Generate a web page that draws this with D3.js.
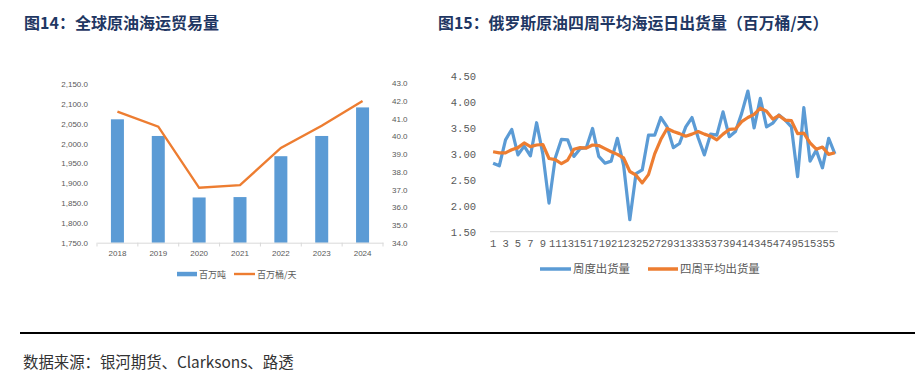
<!DOCTYPE html>
<html><head><meta charset="utf-8">
<script src="https://cdn.jsdelivr.net/npm/d3@7"></script>
<style>
html,body{margin:0;padding:0;background:#fff;}
svg{display:block;}
</style></head>
<body>
<svg id="c" width="924" height="384"></svg>
<script>
// ---- Left chart data ----
const years = ["2018","2019","2020","2021","2022","2023","2024"];
const tonnes = [2061, 2019, 1864, 1865, 1968, 2019, 2091];        // 百万吨
const bblPerDay = [41.4, 40.55, 37.1, 37.25, 39.35, 40.6, 42.0];  // 百万桶/天
const leftTicks = [1750,1800,1850,1900,1950,2000,2050,2100,2150];
const rightTicks = [34,35,36,37,38,39,40,41,42,43];

// ---- Right chart data ----
const weeks = d3.range(1, 57);
const weekly = [2.82,2.77,3.27,3.47,2.98,3.15,2.96,3.60,3.00,2.05,
                2.92,3.28,3.27,2.95,3.10,3.12,3.49,2.95,2.82,2.86,
                3.30,2.78,1.73,2.62,2.69,3.36,3.36,3.70,3.52,3.12,
                3.20,3.52,3.70,3.31,2.98,3.38,3.36,3.81,3.33,3.43,
                3.78,4.21,3.50,4.07,3.52,3.59,3.75,3.65,3.52,2.56,
                3.89,2.86,3.07,2.73,3.30,3.00];
const fourWeek = [3.04,3.02,3.02,3.08,3.12,3.21,3.14,3.17,3.18,2.91,
                  2.89,2.81,2.88,3.09,3.12,3.11,3.17,3.16,3.10,3.04,
                  2.99,2.92,2.66,2.59,2.44,2.60,3.00,3.28,3.49,3.43,
                  3.39,3.34,3.38,3.43,3.38,3.34,3.27,3.38,3.47,3.48,
                  3.62,3.70,3.76,3.88,3.82,3.67,3.74,3.65,3.64,3.39,
                  3.40,3.21,3.09,3.13,2.99,3.02];
const yTicksR = [1.5,2.0,2.5,3.0,3.5,4.0,4.5];

const svg = d3.select("#c");
const BLUE = "#5b9bd5", ORANGE = "#ed7d31";
const CJK = "'Noto Sans CJK SC','Noto Sans',sans-serif";

// Titles
svg.append("text").attr("x",24).attr("y",29).text("图14：全球原油海运贸易量")
  .attr("font-family",CJK).attr("font-weight","bold").attr("font-size",16).attr("fill","#1f3763");
svg.append("text").attr("x",438).attr("y",29).text("图15：俄罗斯原油四周平均海运日出货量（百万桶/天）")
  .attr("font-family",CJK).attr("font-weight","bold").attr("font-size",15.9).attr("fill","#1f3763");

// ---- Left chart ----
const xL = d3.scaleBand().domain(years).range([97,383]);
const yL = d3.scaleLinear().domain([1750,2150]).range([242.7,84]);
const yR = d3.scaleLinear().domain([34,43]).range([242.7,83.3]);
const gL = svg.append("g");
const barW = 13;
gL.selectAll("rect.bar").data(years).join("rect").attr("class","bar")
  .attr("x",d=>xL(d)+xL.bandwidth()/2-barW/2)
  .attr("width",barW)
  .attr("y",(d,i)=>yL(tonnes[i]))
  .attr("height",(d,i)=>yL(1750)-yL(tonnes[i]))
  .attr("fill",BLUE);
// x axis
const axL = gL.append("g").attr("transform","translate(0,242.7)")
  .call(d3.axisBottom(xL).tickSize(0).tickPadding(8));
axL.select(".domain").attr("stroke","#d9d9d9");
axL.selectAll("text").attr("font-family","'Liberation Sans',Arial,sans-serif").attr("font-size",8).attr("fill","#595959");
// category boundary ticks
gL.selectAll("line.ct").data(d3.range(years.length+1)).join("line")
  .attr("x1",i=>97+i*xL.step()).attr("x2",i=>97+i*xL.step())
  .attr("y1",242.7).attr("y2",246.5).attr("stroke","#d9d9d9");
// left axis labels
const fmtL = d3.format(",.1f");
const lAx = gL.append("g").attr("transform","translate(88,0)")
  .call(d3.axisLeft(yL).tickValues(leftTicks).tickFormat(fmtL).tickSize(0).tickPadding(0));
lAx.select(".domain").remove();
lAx.selectAll("text").attr("font-family","'Liberation Sans',Arial,sans-serif").attr("font-size",8).attr("fill","#595959");
const rAx = gL.append("g").attr("transform","translate(392,0)")
  .call(d3.axisRight(yR).tickValues(rightTicks).tickFormat(d3.format(".1f")).tickSize(0).tickPadding(0));
rAx.select(".domain").remove();
rAx.selectAll("text").attr("font-family","'Liberation Sans',Arial,sans-serif").attr("font-size",8).attr("fill","#595959");
// line
gL.append("path").datum(years)
  .attr("d",d3.line().x(d=>xL(d)+xL.bandwidth()/2).y((d,i)=>yR(bblPerDay[i])))
  .attr("fill","none").attr("stroke",ORANGE).attr("stroke-width",2.4);
// legend
gL.append("rect").attr("x",177).attr("y",271.8).attr("width",20).attr("height",4.5).attr("fill",BLUE);
gL.append("text").attr("x",199).attr("y",277.5).text("百万吨").attr("font-family",CJK).attr("font-size",9).attr("fill","#595959");
gL.append("line").attr("x1",234).attr("x2",255).attr("y1",274).attr("y2",274).attr("stroke",ORANGE).attr("stroke-width",2.4);
gL.append("text").attr("x",257).attr("y",277.5).text("百万桶/天").attr("font-family",CJK).attr("font-size",9).attr("fill","#595959");

// ---- Right chart ----
const gR = svg.append("g");
const xR = d3.scaleBand().domain(weeks).range([490,838]);
const yW = d3.scaleLinear().domain([1.5,4.5]).range([231.7,76]);
const cx = d=>xR(d)+xR.bandwidth()/2;
const MONO = "'Liberation Mono','DejaVu Sans Mono',monospace";
gR.append("line").attr("x1",490).attr("x2",838).attr("y1",yW(1.5)).attr("y2",yW(1.5))
  .attr("stroke","#d9d9d9").attr("stroke-width",1);
const yAxR = gR.append("g").attr("transform","translate(476,0)")
  .call(d3.axisLeft(yW).tickValues(yTicksR).tickFormat(d3.format(".2f")).tickSize(0).tickPadding(0));
yAxR.select(".domain").remove();
yAxR.selectAll("text").attr("font-family",MONO).attr("font-size",10.5).attr("fill","#595959");
const xAxR = gR.append("g").attr("transform",`translate(0,${yW(1.5)})`)
  .call(d3.axisBottom(xR).tickValues(weeks.filter(d=>d%2===1)).tickSize(0).tickPadding(8));
xAxR.select(".domain").remove();
xAxR.selectAll("text").attr("font-family",MONO).attr("font-size",10.5).attr("fill","#595959");
gR.append("path").datum(weeks)
  .attr("d",d3.line().x(cx).y((d,i)=>yW(weekly[i])))
  .attr("fill","none").attr("stroke",BLUE).attr("stroke-width",3.2).attr("stroke-linejoin","round");
gR.append("path").datum(weeks)
  .attr("d",d3.line().x(cx).y((d,i)=>yW(fourWeek[i])))
  .attr("fill","none").attr("stroke",ORANGE).attr("stroke-width",3.2).attr("stroke-linejoin","round");
// legend
gR.append("line").attr("x1",540).attr("x2",571).attr("y1",269).attr("y2",269).attr("stroke",BLUE).attr("stroke-width",3.5);
gR.append("text").attr("x",573).attr("y",273).text("周度出货量").attr("font-family",CJK).attr("font-size",11.4).attr("fill","#595959");
gR.append("line").attr("x1",648).attr("x2",678).attr("y1",269).attr("y2",269).attr("stroke",ORANGE).attr("stroke-width",3.5);
gR.append("text").attr("x",680).attr("y",273).text("四周平均出货量").attr("font-family",CJK).attr("font-size",11.4).attr("fill","#595959");

// Divider and source
svg.append("line").attr("x1",20).attr("x2",915).attr("y1",333).attr("y2",333).attr("stroke","#000").attr("stroke-width",2);
svg.append("text").attr("x",23).attr("y",368).text("数据来源：银河期货、Clarksons、路透")
  .attr("font-family",CJK).attr("font-size",15.4).attr("fill","#333");
</script>
</body></html>
